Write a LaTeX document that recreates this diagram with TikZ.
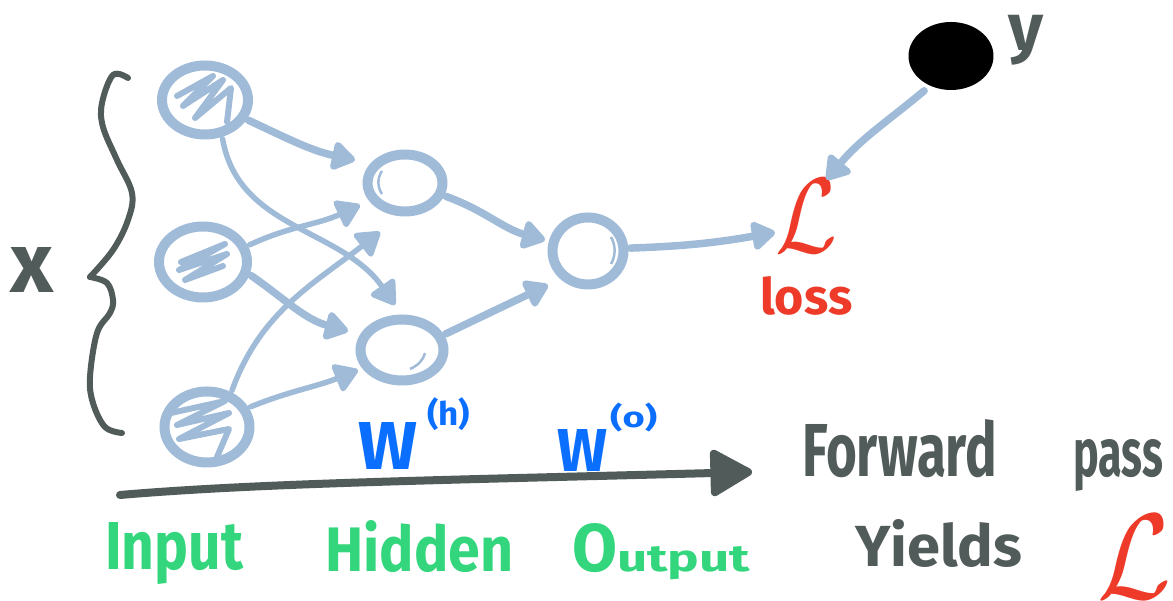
\documentclass[tikz,border=0pt]{standalone}
\usepackage{fontspec}
\setmainfont{Fira Sans}
\usetikzlibrary{arrows.meta,shapes.geometric}
\definecolor{ink}{HTML}{505B5A}
\definecolor{nodeblue}{HTML}{A0BBD8}
\definecolor{wblue}{HTML}{0A6EFF}
\definecolor{lossred}{HTML}{EE3A28}
\definecolor{labgreen}{HTML}{33D67C}
% word set to a given width and height (pt)
\newcommand{\fitword}[3]{\resizebox{#1pt}{#2pt}{\bfseries #3}}
\newcommand{\fitwordall}[3]{\resizebox*{#1pt}{#2pt}{\bfseries #3}}
\begin{document}
\begin{tikzpicture}[x=1pt,y=1pt,
  neuron/.style={ellipse,draw=nodeblue,line width=10pt,inner sep=0pt},
  scribble/.style={draw=nodeblue,line width=6pt,line cap=round,line join=round},
  edge/.style={draw=nodeblue,line width=7.5pt,line cap=round,line join=round,
    -{Triangle[length=26pt,width=32pt,round]},shorten <=2pt},
  thinedge/.style={edge,line width=5.5pt},
  brace/.style={draw=ink,line width=6pt,line cap=round,line join=round},
  lbl/.style={inner sep=0pt,anchor=base west}]
\useasboundingbox (0,0) rectangle (1173,601);

% ---- neurons ----
\node[neuron,minimum width=86pt,minimum height=69pt] (i1) at (205,501) {};
\node[neuron,minimum width=88pt,minimum height=71pt] (i2) at (203,339) {};
\node[neuron,minimum width=85pt,minimum height=71pt] (i3) at (207,174) {};
\node[neuron,minimum width=75pt,minimum height=57pt] (h1) at (405,418) {};
\node[neuron,minimum width=83pt,minimum height=61pt] (h2) at (402,251) {};
\node[neuron,minimum width=71pt,minimum height=67pt] (o)  at (588,350) {};
\node[ellipse,fill=black,draw=black,line width=3pt,minimum width=82pt,minimum height=65pt,inner sep=0pt] (yc) at (951,545) {};

% scribbles inside the input neurons
\begin{scope}[shift={(i1.center)}]
  \draw[scribble] (-28,4) -- (8,24) -- (-22,-6) -- (18,20) -- (-10,-18) -- (26,12) -- (22,-22);
\end{scope}
\begin{scope}[shift={(i2.center)}]
  \draw[scribble] (-22,0) -- (22,18) -- (-24,-8) -- (24,8) -- (-18,-18) -- (20,-4);
\end{scope}
\begin{scope}[shift={(i3.center)}]
  \draw[scribble] (-36,14) -- (18,26) -- (-30,2) -- (22,14) -- (-28,-12) -- (22,-2) -- (10,-30);
\end{scope}
% inner highlights of the other neurons
\draw[nodeblue,line width=2.5pt] ([shift={(-23,-11)}]h1.center) arc[start angle=210,end angle=150,x radius=27pt,y radius=23pt];
\draw[nodeblue,line width=2.5pt] ([shift={(8,-19)}]h2.center) arc[start angle=-60,end angle=-10,x radius=31pt,y radius=23pt];
\draw[nodeblue,line width=2.5pt] ([shift={(23,-13)}]o.center) arc[start angle=-30,end angle=30,x radius=27pt,y radius=27pt];

% ---- connections ----
\draw[edge] (i1.-25) to[out=-25,in=168] ([shift={(-50,23)}]h1.center);
\draw[thinedge] (i1.-65) to[out=-80,in=125] ([shift={(-7,45)}]h2.center);
\draw[thinedge] (i2.20) to[out=25,in=205] ([shift={(-45,-22)}]h1.center);
\draw[edge] (i2.-15) to[out=-35,in=165] ([shift={(-54,19)}]h2.center);
\draw[thinedge] (i3.55) to[out=70,in=218] ([shift={(-25,-49)}]h1.center);
\draw[thinedge] (i3.25) to[out=22,in=202] ([shift={(-44,-20)}]h2.center);
\draw[edge] (h1.-18) to[out=-20,in=165] ([shift={(-43,11)}]o.center);
\draw[edge] (h2.20) -- ([shift={(-40,-34)}]o.center);

% ---- loss ----
\node[lbl,text=lossred] (lossL) at (775,348) {\resizebox{62pt}{73pt}{$\mathcal{L}$}};
\node[lbl,text=lossred] (loss) at (760,286) {\fitword{92}{38}{loss}};
\draw[edge] (o.4) to[out=2,in=190] (lossL.207);
\draw[edge,shorten <=8pt] (yc.235) to[out=-140,in=50] (lossL.61);
\node[inner sep=0pt,anchor=north west,text=ink] (ylab) at (1008,586) {\fitwordall{35}{50}{y}};

% ---- input brace ----
\draw[brace] plot[smooth,tension=0.6] coordinates {(128,523) (113,526) (102,498) (103,474) (117,441) (132,408) (128,381) (113,351) (90,324)};
\draw[brace] plot[smooth,tension=0.6] coordinates {(90,324) (107,318) (113,301) (110,288) (97,268) (90,224) (93,198) (105,174) (122,168)};
\node[lbl,text=ink] (xlab) at (10,308) {\fitword{43}{45}{x}};

% ---- weights ----
\node[lbl,text=wblue] (wh) at (358,131) {\fitword{59}{47}{W}};
\node[inner sep=0pt,anchor=north west,text=wblue] (whs) at (427,204) {\fitwordall{43}{33}{(h)}};
\node[lbl,text=wblue] (wo) at (557,129) {\fitword{50}{42}{W}};
\node[inner sep=0pt,anchor=north west,text=wblue] (wos) at (610,198) {\fitwordall{47}{29}{(o)}};

% ---- forward pass arrow ----
\coordinate (fstart) at (120,106);
\coordinate (fend) at (752,129);
\draw[ink,line width=8pt,line cap=round,line join=round,-{Triangle[length=46pt,width=50pt,round]}]
  (fstart) .. controls (260,118) and (450,121) .. (fend);
\node[lbl,text=ink] (fwd) at (802,124) {\fitword{195}{57}{Forward}\hspace{76pt}\fitword{90}{37}{pass}};

% ---- layer names ----
\node[lbl,text=labgreen] (inp) at (105,31) {\fitword{138}{47}{Input}};
\node[lbl,text=labgreen] (hid) at (325,29) {\fitword{188}{51}{Hidden}};
\node[lbl,text=labgreen] (outp) at (572,29) {\fitword{45}{48}{O}\fitword{133}{25}{utput}};

% ---- yields ----
\node[lbl,text=ink] (yields) at (855,34) {\fitword{167}{47}{Yields}};
\node[inner sep=0pt,anchor=south west,text=lossred] (bigL) at (1097,2) {\resizebox{74pt}{83pt}{$\mathcal{L}$}};
\end{tikzpicture}
\end{document}
